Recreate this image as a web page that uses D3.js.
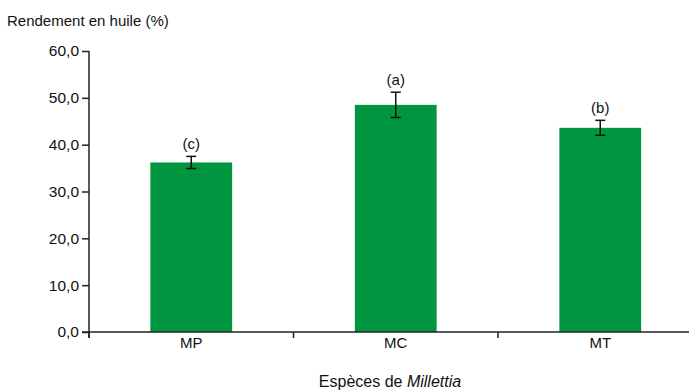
<!DOCTYPE html>
<html><head><meta charset="utf-8">
<script src="https://cdn.jsdelivr.net/npm/d3@7"></script>
<style>body{margin:0;background:#fff}svg{display:block}text{font-family:"Liberation Sans",Arial,sans-serif}</style>
</head><body><svg id="c" width="689" height="390"></svg>
<script>
const categories = ["MP", "MC", "MT"];
const values = [36.2, 48.5, 43.6];
const errors = [1.3, 2.7, 1.6];
const letters = ["(c)", "(a)", "(b)"];
const yTicks = [0, 10, 20, 30, 40, 50, 60];

const svg = d3.select("#c");
const x0 = 89, y0 = 332, yTop = 51;
const x = d3.scaleBand().domain(categories).range([x0, x0 + 3 * 204.5]).paddingInner(0.6).paddingOuter(0.3);
const y = d3.scaleLinear().domain([0, 60]).range([y0, yTop]);
const fmt = v => d3.format(".1f")(v).replace(".", ",");
const green = "#00953f", axisCol = "#222";

// bars
svg.selectAll("rect.bar").data(categories).join("rect")
  .attr("x", d => x(d)).attr("width", x.bandwidth())
  .attr("y", (d, i) => y(values[i])).attr("height", (d, i) => y0 - y(values[i]))
  .attr("fill", green);

// error bars
const cx = d => x(d) + x.bandwidth() / 2;
const eb = svg.append("g").attr("stroke", "#111").attr("stroke-width", 1.5);
categories.forEach((c, i) => {
  const t = y(values[i] + errors[i]), b = y(values[i] - errors[i]);
  eb.append("line").attr("x1", cx(c)).attr("x2", cx(c)).attr("y1", t).attr("y2", b);
  eb.append("line").attr("x1", cx(c) - 5).attr("x2", cx(c) + 5).attr("y1", t).attr("y2", t);
  eb.append("line").attr("x1", cx(c) - 5).attr("x2", cx(c) + 5).attr("y1", b).attr("y2", b);
  svg.append("text").attr("x", cx(c)).attr("y", t - 7).attr("text-anchor", "middle")
    .attr("font-size", 15).attr("fill", "#111").text(letters[i]);
});

// y axis
const yAxis = d3.axisLeft(y).tickValues(yTicks).tickFormat(fmt).tickSize(7).tickPadding(3);
const gy = svg.append("g").attr("transform", `translate(${x0},0)`).call(yAxis);
gy.select(".domain").attr("d", `M0,${yTop}V${y0 + 6}`);
gy.selectAll("path,line").attr("stroke", axisCol).attr("stroke-width", 1.5);
gy.selectAll("text").attr("font-size", 15.5).attr("fill", "#111").attr("font-family", '"Liberation Sans",Arial,sans-serif');

// x axis line
svg.append("line").attr("x1", x0 - 7).attr("x2", 689).attr("y1", y0).attr("y2", y0)
  .attr("stroke", axisCol).attr("stroke-width", 1.5);
categories.forEach((c, i) => {
  const bx = x0 + i * x.step();
  svg.append("line").attr("x1", bx).attr("x2", bx).attr("y1", y0).attr("y2", y0 + 6)
    .attr("stroke", axisCol).attr("stroke-width", 1.5);
  svg.append("text").attr("x", cx(c)).attr("y", y0 + 16).attr("text-anchor", "middle")
    .attr("font-size", 15).attr("fill", "#111").text(c);
});

// titles
svg.append("text").attr("x", 7).attr("y", 26).attr("font-size", 15).attr("fill", "#111").text("Rendement en huile (%)");
const xt = svg.append("text").attr("x", 390).attr("y", 387).attr("text-anchor", "middle").attr("font-size", 16).attr("fill", "#111");
xt.append("tspan").text("Espèces de ");
xt.append("tspan").attr("font-style", "italic").text("Millettia");
</script></body></html>
